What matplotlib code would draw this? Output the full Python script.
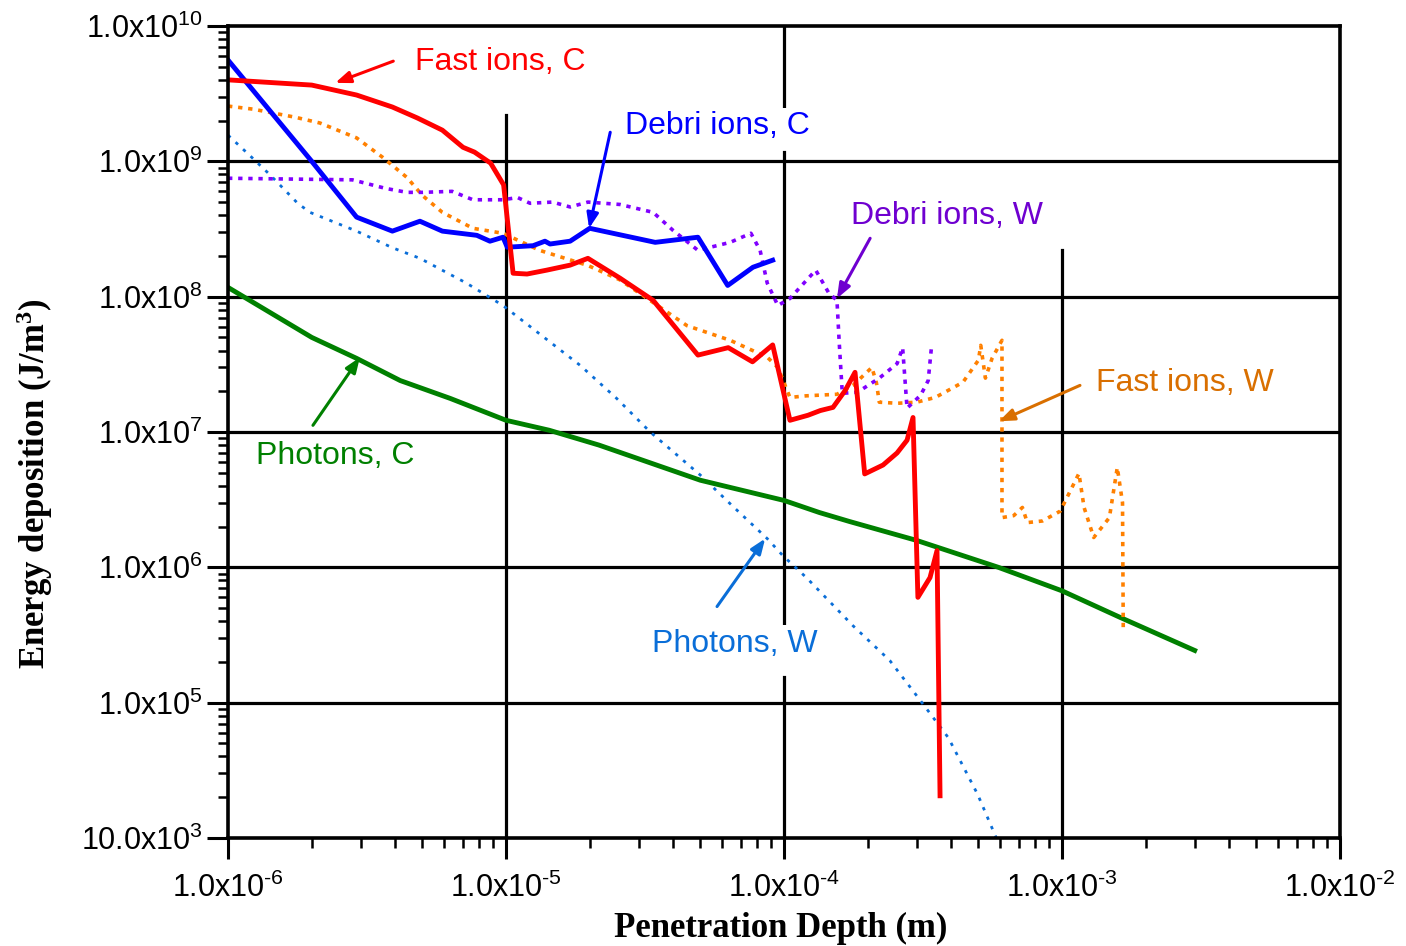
import matplotlib
matplotlib.use("Agg")
import matplotlib.pyplot as plt

plt.rcParams['font.family'] = ['Liberation Sans', 'DejaVu Sans']
plt.rcParams['mathtext.default'] = 'regular'

# --- data (x in m, y in J/m^3) ---
fast_c_x = [1.0e-6, 2.0e-6, 2.9e-6, 3.9e-6, 4.8e-6, 5.9e-6, 7.0e-6, 7.7e-6, 8.8e-6, 9.8e-6,
            1.06e-5, 1.19e-5, 1.40e-5, 1.70e-5, 1.97e-5, 2.57e-5, 3.38e-5, 4.9e-5, 6.3e-5,
            7.7e-5, 9.1e-5, 1.05e-4, 1.22e-4, 1.35e-4, 1.50e-4, 1.66e-4, 1.80e-4, 1.95e-4,
            2.27e-4, 2.55e-4, 2.77e-4, 2.91e-4, 3.03e-4, 3.35e-4, 3.55e-4, 3.64e-4]
fast_c_y = [4.0e9, 3.66e9, 3.09e9, 2.52e9, 2.09e9, 1.70e9, 1.27e9, 1.17e9, 9.7e8, 6.7e8,
            1.49e8, 1.47e8, 1.57e8, 1.71e8, 1.92e8, 1.37e8, 9.4e7, 3.7e7, 4.2e7,
            3.3e7, 4.4e7, 1.22e7, 1.33e7, 1.44e7, 1.52e7, 2.03e7, 2.76e7, 4.9e6,
            5.7e6, 7.0e6, 8.7e6, 1.28e7, 6.0e5, 8.4e5, 1.33e6, 2.05e4]

debri_c_x = [1.0e-6, 2.0e-6, 2.9e-6, 3.9e-6, 4.9e-6, 5.9e-6, 7.85e-6, 8.75e-6, 9.75e-6,
             1.01e-5, 1.25e-5, 1.38e-5, 1.44e-5, 1.70e-5, 2.0e-5, 3.44e-5, 4.9e-5,
             6.27e-5, 7.73e-5, 9.1e-5]
debri_c_y = [5.6e9, 1.0e9, 3.87e8, 3.05e8, 3.61e8, 3.05e8, 2.84e8, 2.57e8, 2.75e8,
             2.32e8, 2.38e8, 2.57e8, 2.45e8, 2.57e8, 3.2e8, 2.52e8, 2.75e8,
             1.21e8, 1.65e8, 1.86e8]

fast_w_x = [1.0e-6, 1.23e-6, 1.74e-6, 2.14e-6, 2.9e-6, 3.6e-6, 4.4e-6, 5.0e-6, 5.9e-6,
            7.6e-6, 9.75e-6, 1.32e-5, 1.97e-5, 2.57e-5, 4.48e-5, 6.4e-5, 8.7e-5, 9.5e-5,
            1.05e-4, 1.2e-4, 1.55e-4, 1.77e-4, 2.07e-4, 2.15e-4, 2.2e-4, 2.55e-4, 3.0e-4,
            3.5e-4, 4.4e-4, 5.0e-4, 5.1e-4, 5.3e-4, 5.6e-4, 6.08e-4, 6.08e-4, 6.7e-4,
            7.2e-4, 7.5e-4, 8.5e-4, 9.85e-4, 1.15e-3, 1.2e-3, 1.3e-3, 1.48e-3, 1.58e-3,
            1.65e-3, 1.66e-3]
fast_w_y = [2.56e9, 2.43e9, 2.12e9, 1.92e9, 1.49e9, 1.07e9, 7.6e8, 5.6e8, 4.2e8,
            3.2e8, 2.94e8, 2.2e8, 1.7e8, 1.33e8, 6.1e7, 4.76e7, 3.57e7, 3.0e7,
            1.8e7, 1.85e7, 1.9e7, 2.21e7, 3.0e7, 2.3e7, 1.66e7, 1.63e7, 1.66e7,
            1.8e7, 2.33e7, 3.39e7, 4.37e7, 2.5e7, 3.5e7, 4.76e7, 2.33e6, 2.41e6,
            2.77e6, 2.14e6, 2.2e6, 2.6e6, 4.94e6, 2.77e6, 1.66e6, 2.33e6, 5.47e6,
            3.0e6, 3.6e5]

debri_w_x = [1.0e-6, 2.8e-6, 3.7e-6, 4.4e-6, 5.0e-6, 6.4e-6, 7.6e-6, 9.75e-6, 1.1e-5,
             1.22e-5, 1.47e-5, 1.7e-5, 1.97e-5, 2.57e-5, 3.38e-5, 3.98e-5, 4.9e-5,
             6.4e-5, 7.6e-5, 8.2e-5, 8.7e-5, 9.5e-5, 1.05e-4, 1.3e-4, 1.45e-4, 1.55e-4,
             1.58e-4, 1.62e-4, 1.84e-4, 2.2e-4, 2.55e-4, 2.67e-4, 2.77e-4, 3.1e-4,
             3.3e-4, 3.4e-4]
debri_w_y = [7.5e8, 7.3e8, 6.3e8, 5.9e8, 5.9e8, 6.0e8, 5.2e8, 5.2e8, 5.4e8,
             4.9e8, 5.0e8, 4.6e8, 5.0e8, 4.8e8, 4.2e8, 3.1e8, 2.2e8,
             2.52e8, 2.94e8, 2.2e8, 1.26e8, 8.6e7, 9.7e7, 1.57e8, 1.06e8, 9.4e7,
             4.5e7, 1.93e7, 1.97e7, 2.5e7, 3.2e7, 4.2e7, 1.5e7, 1.87e7,
             2.4e7, 4.5e7]

phot_w_x = [1.0e-6, 1.2e-6, 1.42e-6, 1.78e-6, 1.97e-6, 2.9e-6, 3.9e-6, 4.9e-6, 7.2e-6,
            9.75e-6, 1.85e-5, 2.5e-5, 3.3e-5, 5.0e-5, 6.5e-5, 8.7e-5, 9.9e-5, 1.21e-4,
            1.77e-4, 2.4e-4, 3.1e-4, 3.9e-4, 4.97e-4, 5.8e-4]
phot_w_y = [1.56e9, 1.1e9, 7.9e8, 4.9e8, 4.2e8, 3.05e8, 2.3e8, 1.92e8, 1.26e8,
            8.6e7, 3.1e7, 1.77e7, 1.0e7, 4.8e6, 2.86e6, 1.63e6, 1.22e6, 8.3e5,
            3.7e5, 2.05e5, 1.03e5, 5.5e4, 2.1e4, 1.0e4]

phot_c_x = [1.0e-6, 2.0e-6, 2.9e-6, 4.16e-6, 6.3e-6, 1.0e-5, 1.43e-5, 2.16e-5, 5.0e-5,
            1.0e-4, 1.34e-4, 1.72e-4, 3.0e-4, 5.9e-4, 1.0e-3, 1.62e-3, 3.0e-3]
phot_c_y = [1.17e8, 5.0e7, 3.5e7, 2.4e7, 1.77e7, 1.22e7, 1.03e7, 8.0e6, 4.4e6,
            3.12e6, 2.54e6, 2.18e6, 1.58e6, 1.0e6, 6.7e5, 4.26e5, 2.43e5]

x_ticks = [1e-6, 1e-5, 1e-4, 1e-3, 1e-2]
x_exps = ['6', '5', '4', '3', '2']
y_ticks = [1e4, 1e5, 1e6, 1e7, 1e8, 1e9, 1e10]
y_labels = [r'$10.0x10^{3}$', r'$1.0x10^{5}$', r'$1.0x10^{6}$', r'$1.0x10^{7}$',
            r'$1.0x10^{8}$', r'$1.0x10^{9}$', r'$1.0x10^{10}$']

red = '#FF0000'
blue = '#0000FF'
orange = '#FF8000'
purple = '#8000FF'
green = '#008000'
lblue = '#0A6ED8'

fig = plt.figure(figsize=(14.06, 9.46), dpi=100)
ax = fig.add_axes([0.1622, 0.1142, 0.7909, 0.8583])
ax.set_xscale('log')
ax.set_yscale('log')
ax.set_xlim(1e-6, 1e-2)
ax.set_ylim(1e4, 1e10)

# major grid; vertical lines are broken where label boxes sit in the original
gkw = dict(color='black', linewidth=2.3, zorder=1)
for yv in y_ticks[1:-1]:
    ax.axhline(yv, **gkw)
ax.axvline(1e-5, ymax=0.890, **gkw)
ax.axvline(1e-4, ymax=0.198, **gkw)
ax.axvline(1e-4, ymin=0.260, ymax=0.845, **gkw)
ax.axvline(1e-4, ymin=0.899, **gkw)
ax.axvline(1e-3, ymax=0.724, **gkw)

ax.plot(phot_w_x, phot_w_y, color=lblue, lw=2.0, ls=(0, (1.2, 2.5)), zorder=3)
ax.plot(phot_c_x, phot_c_y, color=green, lw=3.5, zorder=3)
ax.plot(fast_w_x, fast_w_y, color=orange, lw=2.6, ls=(0, (1.2, 1.6)), zorder=3)
ax.plot(debri_w_x, debri_w_y, color=purple, lw=2.6, ls=(0, (1.2, 1.6)), zorder=3)
ax.plot(debri_c_x, debri_c_y, color=blue, lw=3.5, zorder=4)
ax.plot(fast_c_x, fast_c_y, color=red, lw=3.5, zorder=4)

ax.set_xticks(x_ticks)
ax.set_xticklabels(['$1.0x10^{\u2010' + s + '}$' for s in x_exps])
ax.set_yticks(y_ticks)
ax.set_yticklabels(y_labels)
ax.tick_params(which='major', direction='out', length=15, width=2.2, labelsize=22)
ax.tick_params(axis='x', which='major', pad=10)
ax.tick_params(axis='y', which='major', pad=3)
ax.tick_params(which='minor', direction='out', length=7, width=1.8)
for sp in ax.spines.values():
    sp.set_linewidth(2.6)
    sp.set_zorder(10)

ax.set_xlabel('Penetration Depth (m)', family='Liberation Serif', weight='bold', fontsize=25)
ax.xaxis.set_label_coords(0.497, -0.091)
ax.set_ylabel(r'Energy deposition (J/m$^3$)', family='Liberation Serif', weight='bold',
              fontsize=25)
ax.yaxis.set_label_coords(-0.156, 0.436)


def note(text, color, tip, pos, tail):
    ax.annotate('', xy=tip, xytext=tail,
                arrowprops=dict(arrowstyle='-|>,head_length=0.9,head_width=0.35',
                                color=color, lw=2.2, shrinkA=0, shrinkB=0), zorder=6)
    ax.text(pos[0], pos[1], text, color=color, fontsize=23, ha='center', va='center',
            bbox=dict(facecolor='white', edgecolor='none', boxstyle='square,pad=0.1'),
            zorder=5)


note('Fast ions, C', red, (2.43e-6, 3.8e9), (9.5e-6, 5.4e9), (3.93e-6, 5.5e9))
note('Debri ions, C', blue, (1.99e-5, 3.2e8), (5.74e-5, 1.82e9), (2.37e-5, 1.64e9))
note('Debri ions, W', '#6F00D0', (1.55e-4, 9.7e7), (3.86e-4, 3.93e8), (2.04e-4, 2.7e8))
note('Fast ions, W', '#D96F00', (5.93e-4, 1.2e7), (2.77e-3, 2.29e7), (1.16e-3, 2.21e7))
note('Photons, C', green, (2.98e-6, 3.56e7), (2.43e-6, 6.7e6), (2.02e-6, 1.12e7))
note('Photons, W', lblue, (8.55e-5, 1.63e6), (6.67e-5, 2.73e5), (5.74e-5, 5.13e5))

fig.savefig('out.png', dpi=100)
